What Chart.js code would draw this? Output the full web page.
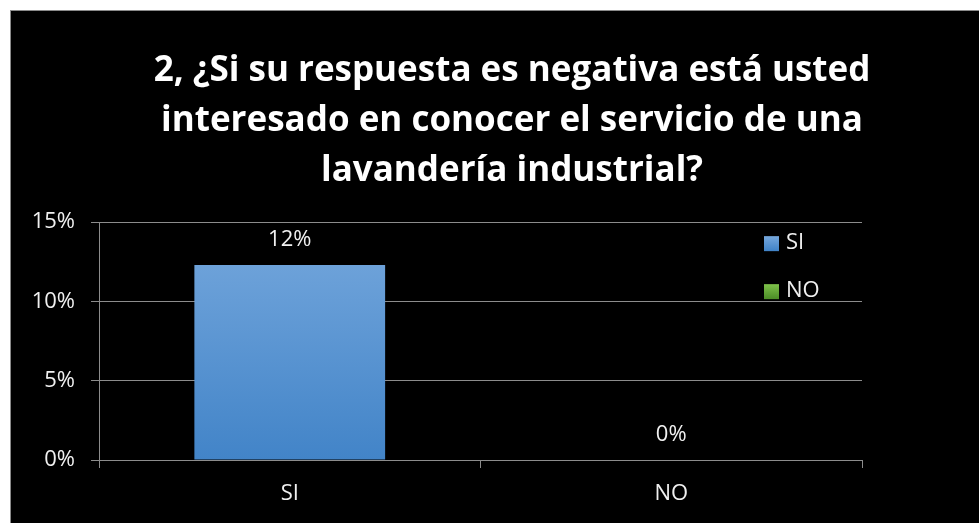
<!DOCTYPE html>
<html>
<head>
<meta charset="utf-8">
<script src="https://cdn.jsdelivr.net/npm/chart.js"></script>
<style>
  body { margin: 0; background: #fff; overflow: hidden; width: 979px; height: 523px; }
  #frame { position: absolute; left: 10px; top: 10px; width: 1100px; height: 600px; background: #000; border-top: 1px solid #8a8a8a; border-left: 1px solid #8a8a8a; }
  #myChart { position: absolute; left: 0; top: 0; }
</style>
</head>
<body>
<div id="frame"></div>
<canvas id="myChart" width="1040" height="523"></canvas>
<script>
// respuestas de la pregunta 2
var categorias = ["SI", "NO"];
var valores = [12.3, 0];
var ticksY = [0, 5, 10, 15];
var titulo = ["2, ¿Si su respuesta es negativa está usted", "interesado en conocer el servicio de una", "lavandería industrial?"];

var colorSI = ["#76a8dd", "#4284c8"];
var colorNO = ["#7fc24a", "#4e8f28"];
var gris = "#8c8c8c";
var textoClaro = "#f0f0f0";

function barColor(ctx) {
  var chart = ctx.chart;
  var area = chart.chartArea;
  var c = ctx.dataIndex === 0 ? colorSI : colorNO;
  if (!area) return c[1];
  var g = chart.ctx.createLinearGradient(0, area.top, 0, area.bottom);
  g.addColorStop(0, c[0]);
  g.addColorStop(1, c[1]);
  return g;
}

// etiquetas encima de las barras
var etiquetas = {
  id: "etiquetas",
  afterDatasetsDraw: function(chart) {
    var ctx = chart.ctx;
    var meta = chart.getDatasetMeta(0);
    ctx.save();
    ctx.fillStyle = textoClaro;
    ctx.font = "22px 'Open Sans'";
    ctx.textAlign = "center";
    ctx.textBaseline = "alphabetic";
    meta.data.forEach(function(bar, i) {
      ctx.fillText(Math.round(valores[i]) + "%", bar.x, bar.y - 19);
    });
    ctx.restore();
  }
};

// leyenda dentro del area del grafico
var leyenda = {
  id: "leyenda",
  afterDraw: function(chart) {
    var ctx = chart.ctx;
    var a = chart.chartArea;
    ctx.save();
    ctx.font = "22px 'Open Sans'";
    ctx.textBaseline = "middle";
    categorias.forEach(function(cat, i) {
      var x = a.right - 98;
      var y = a.top + 21 + i * 48;
      var c = i === 0 ? colorSI : colorNO;
      var g = ctx.createLinearGradient(0, y - 7, 0, y + 7);
      g.addColorStop(0, c[0]);
      g.addColorStop(1, c[1]);
      ctx.fillStyle = g;
      ctx.fillRect(x, y - 7, 15, 15);
      ctx.fillStyle = textoClaro;
      ctx.fillText(cat, x + 22, y);
    });
    ctx.restore();
  }
};

new Chart("myChart", {
  type: "bar",
  data: {
    labels: categorias,
    datasets: [{
      data: valores,
      backgroundColor: barColor,
      categoryPercentage: 1,
      barPercentage: 0.5
    }]
  },
  options: {
    responsive: false,
    animation: false,
    layout: { padding: { left: 10, right: 26, top: 0, bottom: 0 } },
    plugins: {
      legend: { display: false },
      tooltip: { enabled: false },
      title: {
        display: true,
        text: titulo,
        color: "#ffffff",
        font: { family: "'Open Sans'", size: 35, weight: "bold", lineHeight: 1.43 },
        padding: { top: 46, bottom: 26 }
      }
    },
    scales: {
      x: {
        grid: { display: true, drawOnChartArea: false, drawTicks: true, tickLength: 8, color: gris, offset: true },
        border: { display: true, color: gris },
        ticks: { color: textoClaro, font: { family: "'Open Sans'", size: 22 }, padding: 13 },
        afterFit: function(s) { s.height = 63; }
      },
      y: {
        min: 0,
        max: 15,
        afterBuildTicks: function(s) { s.ticks = ticksY.map(function(v) { return { value: v }; }); },
        grid: { color: gris, tickLength: 8 },
        border: { display: true, color: gris },
        ticks: {
          color: textoClaro,
          font: { family: "'Open Sans'", size: 22 },
          padding: 16,
          callback: function(v) { return v + "%"; }
        },
        afterFit: function(s) { s.width = 89; }
      },
      espacio: {
        type: "linear",
        position: "right",
        grid: { display: false },
        border: { display: false },
        ticks: { display: false },
        afterFit: function(s) { s.width = 152; }
      }
    }
  },
  plugins: [etiquetas, leyenda]
});
</script>
</body>
</html>
